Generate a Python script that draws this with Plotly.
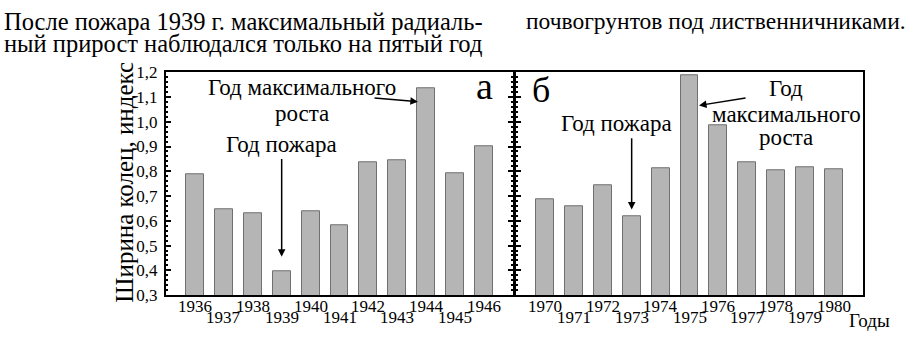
import plotly.graph_objects as go

# ---- data ----
years_a = [1936, 1937, 1938, 1939, 1940, 1941, 1942, 1943, 1944, 1945, 1946]
values_a = [0.79, 0.645, 0.63, 0.395, 0.64, 0.58, 0.836, 0.845, 1.137, 0.791, 0.90]
years_b = [1970, 1971, 1972, 1973, 1974, 1975, 1976, 1977, 1978, 1979, 1980]
values_b = [0.686, 0.657, 0.745, 0.62, 0.812, 1.188, 0.985, 0.837, 0.805, 0.818, 0.807]
y_ticks = [0.3, 0.4, 0.5, 0.6, 0.7, 0.8, 0.9, 1.0, 1.1, 1.2]
y_ticktext = [f"{v:.1f}".replace(".", ",") for v in y_ticks]

SERIF = "'Liberation Serif'"
BAR_FILL = "#b5b5b5"
BAR_LINE = "#707070"

def F(size):
    return dict(family=SERIF, size=size, color="black")

fig = go.Figure()
fig.add_trace(go.Bar(x=years_a, y=values_a, width=0.62, xaxis="x", yaxis="y",
                     marker=dict(color=BAR_FILL, line=dict(color=BAR_LINE, width=1)),
                     showlegend=False, hoverinfo="skip"))
fig.add_trace(go.Bar(x=years_b, y=values_b, width=0.62, xaxis="x2", yaxis="y2",
                     marker=dict(color=BAR_FILL, line=dict(color=BAR_LINE, width=1)),
                     showlegend=False, hoverinfo="skip"))

xcommon = dict(showgrid=False, zeroline=False, showline=True, linecolor="black",
               linewidth=2, mirror=True, ticks="", showticklabels=False)
ycommon = dict(range=[0.3, 1.2], showgrid=False, zeroline=False, showline=True,
               linecolor="black", linewidth=2, tickvals=y_ticks,
               ticks="inside", ticklen=5, tickcolor="black", tickwidth=1.5,
               minor=dict(ticks="inside", ticklen=2, tickcolor="black", dtick=0.02),
               tickfont=F(17))

fig.update_layout(
    width=911, height=340,
    margin=dict(l=0, r=0, t=0, b=0),
    paper_bgcolor="white", plot_bgcolor="white",
    font=F(17),
    bargap=0,
    xaxis=dict(domain=[166/911, 513/911], range=[1935, 1947], anchor="y", **xcommon),
    yaxis=dict(domain=[1-303/340, 1-67/340], anchor="x", ticktext=y_ticktext,
               mirror="ticks", ticklabelstandoff=3, **ycommon),
    xaxis2=dict(domain=[516/911, 863/911], range=[1969, 1981], anchor="y2", **xcommon),
    yaxis2=dict(domain=[1-303/340, 1-67/340], anchor="x2", showticklabels=False,
                mirror=True, **ycommon),
)

ann = []
# year labels in two staggered rows (even years upper, odd years lower)
for xr, years in (("x", years_a), ("x2", years_b)):
    for yr in years:
        ypix = 315 if yr % 2 == 0 else 327
        ann.append(dict(x=yr, y=1-ypix/340, xref=xr, yref="paper", text=str(yr),
                        showarrow=False, xanchor="center", yanchor="middle", font=F(17)))

tf = F(23)
arrow = dict(text="", showarrow=True, arrowhead=2, arrowsize=1, arrowwidth=1.5,
             arrowcolor="black")
# panel a
ann += [
    dict(x=1939.69, y=1.139, xref="x", yref="y", text="Год максимального",
         showarrow=False, font=tf),
    dict(x=1939.69, y=1.035, xref="x", yref="y", text="роста", showarrow=False, font=tf),
    dict(x=1943.71, y=1.081, xref="x", yref="y", ax=1942.16, ay=1.097, axref="x", ayref="y",
         **arrow),
    dict(x=1939.0, y=0.91, xref="x", yref="y", text="Год пожара", showarrow=False, font=tf),
    dict(x=1939.0, y=0.455, xref="x", yref="y", ax=1939.0, ay=0.856, axref="x", ayref="y",
         **arrow),
    dict(x=1946.03, y=1.146, xref="x", yref="y", text="а", showarrow=False, font=F(38)),
]
# panel b
ann += [
    dict(x=1969.86, y=1.127, xref="x2", yref="y2", text="б", showarrow=False, font=F(36)),
    dict(x=1972.46, y=0.995, xref="x2", yref="y2", text="Год пожара", showarrow=False, font=tf),
    dict(x=1973.0, y=0.646, xref="x2", yref="y2", ax=1973.0, ay=0.94, axref="x2", ayref="y2",
         **arrow),
    dict(x=1978.35, y=1.133, xref="x2", yref="y2", text="Год", showarrow=False, font=tf),
    dict(x=1978.35, y=1.030, xref="x2", yref="y2", text="максимального", showarrow=False,
         font=tf),
    dict(x=1978.35, y=0.937, xref="x2", yref="y2", text="роста", showarrow=False, font=tf),
    dict(x=1975.33, y=1.066, xref="x2", yref="y2", ax=1976.99, ay=1.097, axref="x2", ayref="y2",
         **arrow),
    dict(x=869/911, y=1-330/340, xref="paper", yref="paper", text="Годы", showarrow=False,
         xanchor="center", yanchor="middle", font=F(19)),
]
# axis title
ann.append(dict(x=125/911, y=1-184/340, xref="paper", yref="paper",
                text="Ширина колец, индекс", textangle=-90, showarrow=False,
                xanchor="center", yanchor="middle", font=F(25)))
# surrounding page text
ann += [
    dict(x=2/911, y=1-13/340, xref="paper", yref="paper", xanchor="left", yanchor="middle",
         text="После пожара 1939 г. максимальный радиаль-", showarrow=False, font=F(24.5)),
    dict(x=2/911, y=1-37/340, xref="paper", yref="paper", xanchor="left", yanchor="middle",
         text="ный прирост наблюдался только на пятый год", showarrow=False, font=F(24.5)),
    dict(x=524/911, y=1-13/340, xref="paper", yref="paper", xanchor="left", yanchor="middle",
         text="почвогрунтов под лиственничниками.", showarrow=False, font=F(23.5)),
]
fig.update_layout(annotations=ann)

fig.write_html("out.html", config={"displayModeBar": False},
               post_script="document.body.style.margin='0';document.body.style.overflow='hidden';")
